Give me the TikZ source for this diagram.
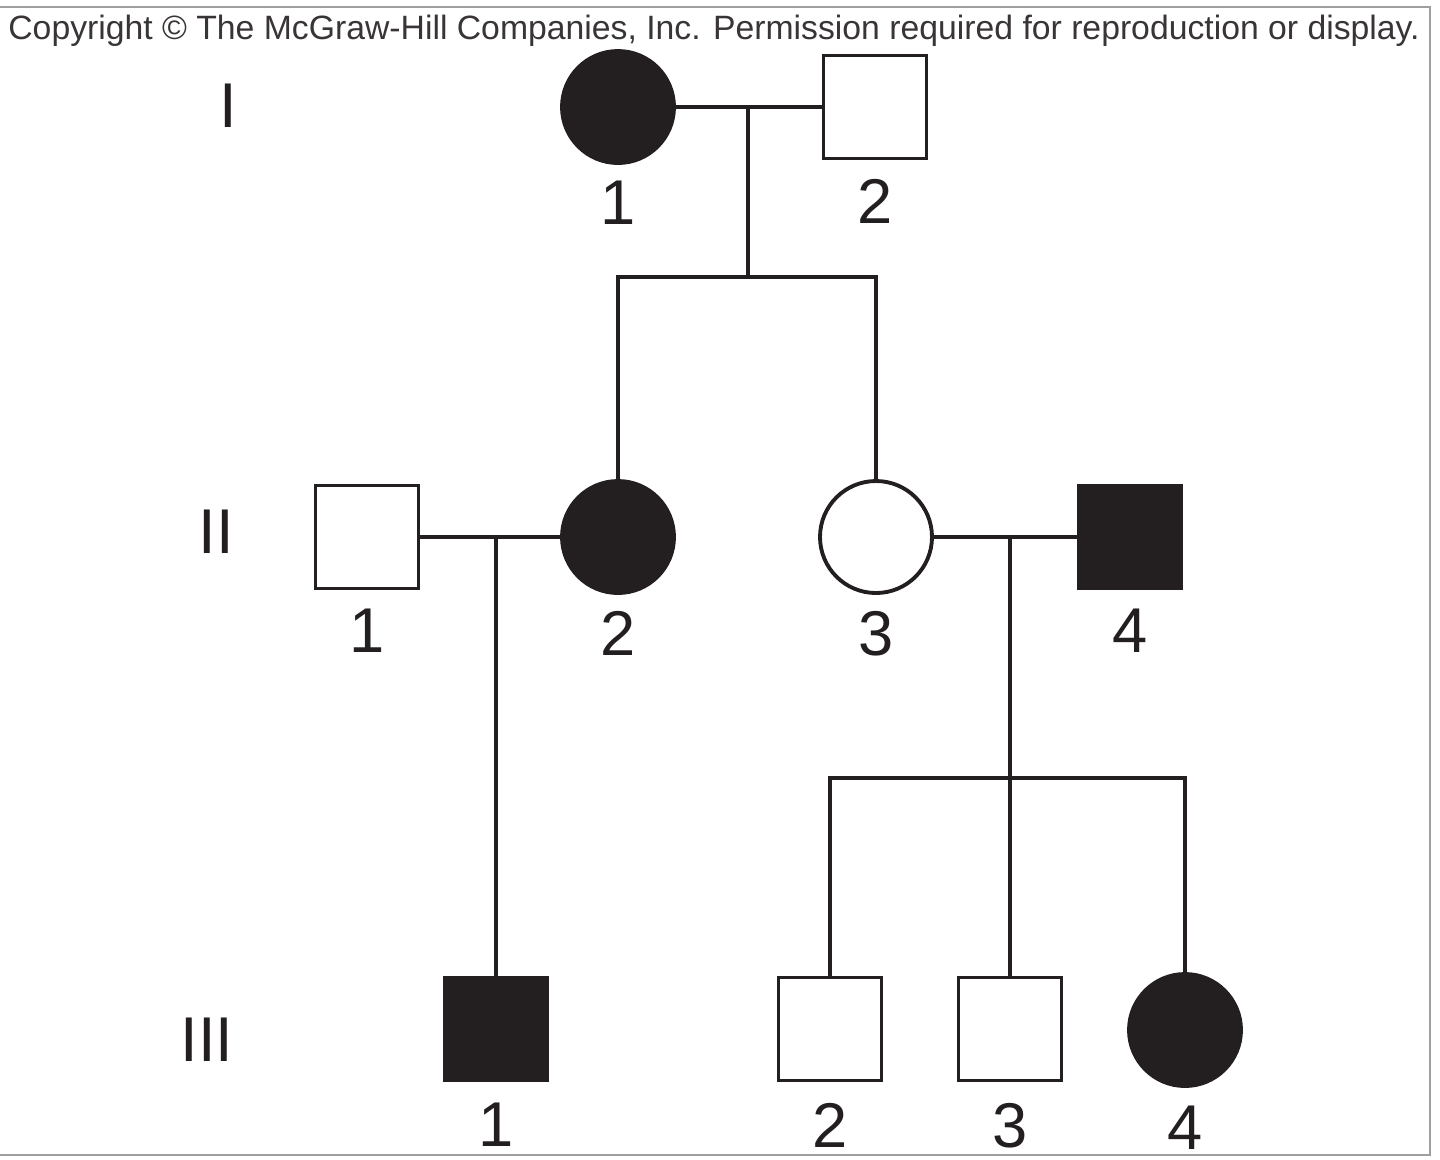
\documentclass[tikz,border=0pt]{standalone}
\usepackage{fontspec}
\setmainfont{Liberation Sans}
\usetikzlibrary{positioning}
\definecolor{ink}{RGB}{35,31,32}

\begin{document}
\begin{tikzpicture}[line width=1.1pt, draw=ink,
    fem/.style={circle, draw=ink, minimum size=1.12cm, inner sep=0pt},
    male/.style={rectangle, draw=ink, line width=0.9pt, minimum size=1.03cm, inner sep=0pt},
    ill/.style={fill=ink},
    num/.style={inner sep=0pt, font=\fontsize{18}{21}\selectfont, text=ink},
    gen/.style={inner sep=0pt, font=\fontsize{18}{21}\selectfont, text=ink}]
  \useasboundingbox (0,0) rectangle (14.40,-11.59);
  % frame and notice
  \draw[gray!75, line width=0.8pt] (0,-0.07) -- (14.30,-0.07) -- (14.30,-11.55) -- (0,-11.55);
  \node[inner sep=0pt, text=ink!90, font=\fontsize{9.6}{11}\selectfont] (copy) at (7.14,-0.31) {Copyright \textcopyright\ The McGraw-Hill Companies, Inc. Permission required for reproduction or display.};
  % generations
  \node[gen] (gI) at (2.28,-1.06) {I};
  \node[gen] (gII) at (2.16,-5.32) {II};
  \node[gen] (gIII) at (2.07,-10.40) {III};
  % generation I
  \node[fem, ill] (I1) at (6.18,-1.07) {};
  \node[male] (I2) at (8.75,-1.07) {};
  \node[num, below=0.14cm of I1] (nI1) {1};
  \node[num, below=0.17cm of I2] (nI2) {2};
  % generation II
  \node[male] (II1) at (3.67,-5.37) {};
  \node[fem, ill] (II2) at (6.18,-5.37) {};
  \node[fem] (II3) at (8.76,-5.37) {};
  \node[male, ill] (II4) at (11.30,-5.37) {};
  \node[num, below=0.17cm of II1] (nII1) {1};
  \node[num, below=0.14cm of II2] (nII2) {2};
  \node[num, below=0.14cm of II3] (nII3) {3};
  \node[num, below=0.17cm of II4] (nII4) {4};
  % generation III
  \node[male, ill] (III1) at (4.96,-10.29) {};
  \node[male] (III2) at (8.30,-10.29) {};
  \node[male] (III3) at (10.10,-10.29) {};
  \node[fem, ill] (III4) at (11.85,-10.30) {};
  \node[num, below=0.19cm of III1] (nIII1) {1};
  \node[num, below=0.19cm of III2] (nIII2) {2};
  \node[num, below=0.19cm of III3] (nIII3) {3};
  \node[num, below=0.16cm of III4] (nIII4) {4};
  % matings and sibships
  \coordinate (m1) at (7.48,-1.07);
  \coordinate (s1) at (7.48,-2.77);
  \coordinate (m2) at (4.96,-5.37);
  \coordinate (m3) at (10.10,-5.37);
  \coordinate (s3) at (10.10,-7.78);
  \draw (I1) -- (I2);
  \draw (m1) -- (s1);
  \draw (II2.north) |- (s1) -| (II3.north);
  \draw (II1) -- (II2);
  \draw (m2) -- (III1.north);
  \draw (II3) -- (II4);
  \draw (m3) -- (III3.north);
  \draw (III2.north) |- (s3) -| (III4.north);
\end{tikzpicture}
\end{document}
